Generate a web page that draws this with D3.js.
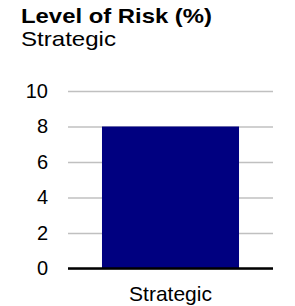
<!DOCTYPE html>
<html><head><meta charset="utf-8">
<script src="https://cdn.jsdelivr.net/npm/d3@7"></script>
<style>body{margin:0;background:#fff}svg{display:block}text{font-family:"Liberation Sans",Arial,sans-serif}</style>
</head><body>
<svg id="c" width="295" height="306"></svg>
<script>
const categories = ["Strategic"];
const values = [8];
const yTicks = [0, 2, 4, 6, 8, 10];
const title = "Level of Risk (%)";
const subtitle = "Strategic";

const svg = d3.select("#c");
const x = d3.scaleBand().domain(categories).range([68, 273]).paddingInner(0).paddingOuter(0.248);
const y = d3.scaleLinear().domain([0, 10]).range([268.5, 91]);

svg.append("text").attr("x", 21).attr("y", 22.5).attr("font-size", 21).attr("font-weight", "bold").attr("fill", "#000")
  .attr("textLength", 191).attr("lengthAdjust", "spacingAndGlyphs").text(title);
svg.append("text").attr("x", 21).attr("y", 46).attr("font-size", 21).attr("fill", "#000")
  .attr("textLength", 95).attr("lengthAdjust", "spacingAndGlyphs").text(subtitle);

const yAxis = svg.append("g").attr("transform", "translate(68,0)")
  .call(d3.axisLeft(y).tickValues(yTicks).tickSize(-205).tickPadding(20).tickFormat(d3.format("d")));
yAxis.select(".domain").remove();
yAxis.selectAll(".tick line").attr("stroke", "#c0c0c0").attr("stroke-width", 1.5);
yAxis.selectAll(".tick text").attr("font-size", 20).attr("fill", "#000").attr("font-family", '"Liberation Sans",Arial,sans-serif');

svg.selectAll("rect.bar").data(values).join("rect").attr("class", "bar")
  .attr("x", (d, i) => x(categories[i])).attr("width", x.bandwidth())
  .attr("y", d => y(d)).attr("height", d => y(0) - y(d)).attr("fill", "#000080");

svg.append("line").attr("x1", 68).attr("x2", 273).attr("y1", y(0)).attr("y2", y(0)).attr("stroke", "#000").attr("stroke-width", 2.5);

const xAxis = svg.append("g").attr("transform", `translate(0,${y(0)})`)
  .call(d3.axisBottom(x).tickSize(0).tickPadding(18));
xAxis.select(".domain").remove();
xAxis.selectAll(".tick text").attr("font-size", 21).attr("fill", "#000").attr("font-family", '"Liberation Sans",Arial,sans-serif');
</script>
</body></html>
